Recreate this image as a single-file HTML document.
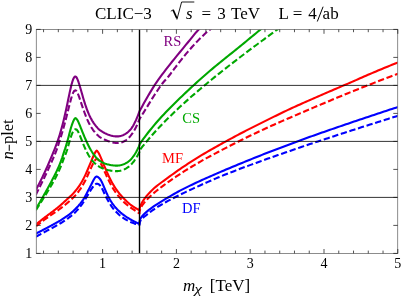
<!DOCTYPE html>
<html><head><meta charset="utf-8"><style>
html,body{margin:0;padding:0;background:#fff}
svg{display:block;will-change:transform;opacity:0.999}
text{font-family:"Liberation Serif",serif;}
</style></head><body>
<svg width="407" height="299" viewBox="0 0 407 299">
<rect width="407" height="299" fill="#fff"/>
<defs><clipPath id="c"><rect x="36.3" y="29.4" width="361.4" height="224.0"/></clipPath></defs>
<g clip-path="url(#c)" stroke-linecap="butt" stroke-linejoin="round">
<path d="M35.80 233.73 L36.55 233.34 L37.30 232.94 L38.05 232.55 L38.80 232.16 L39.55 231.77 L40.30 231.37 L41.05 230.98 L41.80 230.59 L42.55 230.19 L43.30 229.80 L44.05 229.40 L44.80 229.01 L45.55 228.61 L46.30 228.22 L47.05 227.82 L47.80 227.42 L48.55 227.03 L49.30 226.63 L50.05 226.23 L50.80 225.82 L51.55 225.42 L52.30 225.01 L53.05 224.61 L53.80 224.20 L54.55 223.78 L55.30 223.37 L56.05 222.95 L56.80 222.53 L57.55 222.10 L58.30 221.67 L59.05 221.23 L59.80 220.79 L60.55 220.34 L61.30 219.89 L62.05 219.42 L62.80 218.96 L63.55 218.48 L64.30 217.99 L65.05 217.49 L65.80 216.98 L66.55 216.46 L67.30 215.93 L68.05 215.38 L68.80 214.82 L69.55 214.24 L70.30 213.65 L71.05 213.03 L71.80 212.39 L72.55 211.73 L73.30 211.05 L74.05 210.34 L74.80 209.61 L75.55 208.84 L76.30 208.05 L77.05 207.24 L77.80 206.43 L78.55 205.61 L79.30 204.75 L80.05 203.87 L80.80 202.94 L81.55 201.96 L82.30 200.93 L83.05 199.83 L83.80 198.66 L84.55 197.42 L85.30 196.10 L86.05 194.73 L86.80 193.31 L87.55 191.84 L88.30 190.34 L89.05 188.85 L89.80 187.39 L90.55 185.95 L91.30 184.55 L92.05 183.07 L92.80 181.55 L93.55 180.08 L94.30 178.74 L95.05 177.63 L95.80 176.83 L96.55 176.48 L97.30 176.69 L98.05 177.13 L98.80 177.73 L99.55 178.48 L100.30 179.43 L101.05 180.62 L101.80 182.05 L102.55 183.65 L103.30 185.36 L104.05 187.15 L104.80 188.95 L105.55 190.72 L106.30 192.44 L107.05 194.08 L107.80 195.62 L108.55 197.06 L109.30 198.44 L110.05 199.77 L110.80 201.03 L111.55 202.22 L112.30 203.36 L113.05 204.42 L113.80 205.42 L114.55 206.36 L115.30 207.25 L116.05 208.09 L116.80 208.89 L117.55 209.67 L118.30 210.41 L119.05 211.13 L119.80 211.81 L120.55 212.48 L121.30 213.11 L122.05 213.73 L122.80 214.32 L123.55 214.90 L124.30 215.45 L125.05 215.99 L125.80 216.51 L126.55 217.02 L127.30 217.51 L128.05 217.99 L128.80 218.45 L129.55 218.90 L130.30 219.34 L131.05 219.77 L131.80 220.18 L132.55 220.59 L133.30 220.99 L134.05 221.37 L134.80 221.75 L135.55 222.12 L136.30 222.48 L137.05 222.83 L137.80 223.18 L138.55 223.52 L139.30 223.85 L139.50 223.93 L139.50 222.62 L139.60 221.34 L139.75 220.61 L140.00 219.81 L140.30 219.09 L140.70 218.32 L141.30 217.34 L142.00 216.39 L142.80 215.44 L143.70 214.49 L144.70 213.52 L146.00 212.34 L148.00 210.63 L150.00 209.05 L152.00 207.58 L154.00 206.19 L156.00 204.86 L158.00 203.57 L160.00 202.32 L162.00 201.10 L164.00 199.89 L166.00 198.70 L168.00 197.51 L170.00 196.32 L172.00 195.14 L174.00 193.97 L176.00 192.84 L178.00 191.73 L180.00 190.67 L182.00 189.63 L184.00 188.62 L186.00 187.62 L188.00 186.64 L190.00 185.66 L192.00 184.70 L194.00 183.76 L196.00 182.82 L198.00 181.89 L200.00 180.96 L202.00 180.05 L204.00 179.14 L206.00 178.24 L208.00 177.35 L210.00 176.47 L212.00 175.59 L214.00 174.71 L216.00 173.85 L218.00 172.99 L220.00 172.13 L222.00 171.28 L224.00 170.43 L226.00 169.59 L228.00 168.75 L230.00 167.92 L232.00 167.08 L234.00 166.25 L236.00 165.42 L238.00 164.59 L240.00 163.76 L242.00 162.94 L244.00 162.11 L246.00 161.29 L248.00 160.47 L250.00 159.66 L252.00 158.85 L254.00 158.04 L256.00 157.24 L258.00 156.45 L260.00 155.66 L262.00 154.87 L264.00 154.09 L266.00 153.31 L268.00 152.53 L270.00 151.76 L272.00 150.99 L274.00 150.22 L276.00 149.45 L278.00 148.69 L280.00 147.93 L282.00 147.18 L284.00 146.42 L286.00 145.67 L288.00 144.93 L290.00 144.18 L292.00 143.44 L294.00 142.70 L296.00 141.96 L298.00 141.22 L300.00 140.49 L302.00 139.75 L304.00 139.02 L306.00 138.30 L308.00 137.57 L310.00 136.85 L312.00 136.13 L314.00 135.42 L316.00 134.70 L318.00 134.00 L320.00 133.29 L322.00 132.59 L324.00 131.89 L326.00 131.19 L328.00 130.50 L330.00 129.81 L332.00 129.12 L334.00 128.43 L336.00 127.74 L338.00 127.05 L340.00 126.37 L342.00 125.69 L344.00 125.00 L346.00 124.32 L348.00 123.64 L350.00 122.96 L352.00 122.29 L354.00 121.61 L356.00 120.93 L358.00 120.26 L360.00 119.58 L362.00 118.91 L364.00 118.24 L366.00 117.57 L368.00 116.90 L370.00 116.23 L372.00 115.56 L374.00 114.90 L376.00 114.23 L378.00 113.57 L380.00 112.90 L382.00 112.24 L384.00 111.58 L386.00 110.92 L388.00 110.26 L390.00 109.60 L392.00 108.94 L394.00 108.28 L396.00 107.63 L398.00 106.97" fill="none" stroke="#0000ff" stroke-width="2.1"/>
<path d="M35.80 236.78 L36.55 236.38 L37.30 235.96 L38.05 235.54 L38.80 235.13 L39.55 234.72 L40.30 234.31 L41.05 233.90 L41.80 233.49 L42.55 233.09 L43.30 232.68 L44.05 232.28 L44.80 231.88 L45.55 231.48 L46.30 231.07 L47.05 230.67 L47.80 230.27 L48.55 229.87 L49.30 229.47 L50.05 229.07 L50.80 228.67 L51.55 228.27 L52.30 227.87 L53.05 227.46 L53.80 227.06 L54.55 226.65 L55.30 226.24 L56.05 225.82 L56.80 225.40 L57.55 224.98 L58.30 224.56 L59.05 224.12 L59.80 223.68 L60.55 223.24 L61.30 222.79 L62.05 222.33 L62.80 221.86 L63.55 221.39 L64.30 220.90 L65.05 220.41 L65.80 219.91 L66.55 219.39 L67.30 218.86 L68.05 218.32 L68.80 217.76 L69.55 217.19 L70.30 216.60 L71.05 216.00 L71.80 215.37 L72.55 214.73 L73.30 214.06 L74.05 213.37 L74.80 212.65 L75.55 211.91 L76.30 211.14 L77.05 210.34 L77.80 209.52 L78.55 208.66 L79.30 207.77 L80.05 206.84 L80.80 205.87 L81.55 204.86 L82.30 203.82 L83.05 202.73 L83.80 201.61 L84.55 200.44 L85.30 199.24 L86.05 198.00 L86.80 196.73 L87.55 195.42 L88.30 194.11 L89.05 192.86 L89.80 191.62 L90.55 190.39 L91.30 189.20 L92.05 188.07 L92.80 187.02 L93.55 186.07 L94.30 185.24 L95.05 184.56 L95.80 184.05 L96.55 183.76 L97.30 183.73 L98.05 183.95 L98.80 184.34 L99.55 184.92 L100.30 185.74 L101.05 186.81 L101.80 188.10 L102.55 189.56 L103.30 191.14 L104.05 192.77 L104.80 194.40 L105.55 195.96 L106.30 197.42 L107.05 198.83 L107.80 200.20 L108.55 201.52 L109.30 202.80 L110.05 204.02 L110.80 205.18 L111.55 206.29 L112.30 207.34 L113.05 208.33 L113.80 209.28 L114.55 210.17 L115.30 211.01 L116.05 211.81 L116.80 212.58 L117.55 213.31 L118.30 214.01 L119.05 214.68 L119.80 215.32 L120.55 215.93 L121.30 216.52 L122.05 217.08 L122.80 217.61 L123.55 218.12 L124.30 218.61 L125.05 219.08 L125.80 219.53 L126.55 219.96 L127.30 220.38 L128.05 220.77 L128.80 221.15 L129.55 221.51 L130.30 221.86 L131.05 222.19 L131.80 222.51 L132.55 222.81 L133.30 223.10 L134.05 223.38 L134.80 223.64 L135.55 223.89 L136.30 224.13 L137.05 224.36 L137.80 224.58 L138.55 224.78 L139.30 224.98 L139.50 225.03 L139.50 224.31 L139.60 223.13 L139.75 222.47 L140.00 221.73 L140.30 221.07 L140.70 220.37 L141.30 219.51 L142.00 218.68 L142.80 217.88 L143.70 217.09 L144.70 216.30 L146.00 215.33 L148.00 213.76 L150.00 212.17 L152.00 210.69 L154.00 209.30 L156.00 207.97 L158.00 206.70 L160.00 205.48 L162.00 204.29 L164.00 203.15 L166.00 202.03 L168.00 200.94 L170.00 199.88 L172.00 198.83 L174.00 197.80 L176.00 196.79 L178.00 195.78 L180.00 194.79 L182.00 193.81 L184.00 192.84 L186.00 191.88 L188.00 190.94 L190.00 190.01 L192.00 189.08 L194.00 188.16 L196.00 187.25 L198.00 186.34 L200.00 185.43 L202.00 184.53 L204.00 183.64 L206.00 182.75 L208.00 181.87 L210.00 181.00 L212.00 180.13 L214.00 179.27 L216.00 178.41 L218.00 177.57 L220.00 176.73 L222.00 175.91 L224.00 175.09 L226.00 174.28 L228.00 173.48 L230.00 172.70 L232.00 171.92 L234.00 171.15 L236.00 170.38 L238.00 169.61 L240.00 168.85 L242.00 168.10 L244.00 167.35 L246.00 166.60 L248.00 165.86 L250.00 165.12 L252.00 164.38 L254.00 163.65 L256.00 162.92 L258.00 162.19 L260.00 161.47 L262.00 160.74 L264.00 160.03 L266.00 159.31 L268.00 158.60 L270.00 157.89 L272.00 157.18 L274.00 156.48 L276.00 155.77 L278.00 155.07 L280.00 154.37 L282.00 153.68 L284.00 152.98 L286.00 152.29 L288.00 151.60 L290.00 150.91 L292.00 150.22 L294.00 149.53 L296.00 148.85 L298.00 148.17 L300.00 147.49 L302.00 146.81 L304.00 146.13 L306.00 145.46 L308.00 144.78 L310.00 144.11 L312.00 143.44 L314.00 142.77 L316.00 142.10 L318.00 141.44 L320.00 140.77 L322.00 140.11 L324.00 139.45 L326.00 138.79 L328.00 138.13 L330.00 137.47 L332.00 136.81 L334.00 136.16 L336.00 135.50 L338.00 134.85 L340.00 134.20 L342.00 133.55 L344.00 132.90 L346.00 132.25 L348.00 131.61 L350.00 130.96 L352.00 130.32 L354.00 129.67 L356.00 129.03 L358.00 128.39 L360.00 127.75 L362.00 127.11 L364.00 126.47 L366.00 125.83 L368.00 125.20 L370.00 124.56 L372.00 123.93 L374.00 123.29 L376.00 122.66 L378.00 122.03 L380.00 121.40 L382.00 120.77 L384.00 120.14 L386.00 119.51 L388.00 118.88 L390.00 118.25 L392.00 117.63 L394.00 117.00 L396.00 116.38 L398.00 115.76" fill="none" stroke="#0000ff" stroke-width="2.1" stroke-dasharray="6.3 2.7"/>
<path d="M35.80 224.64 L36.55 224.05 L37.30 223.42 L38.05 222.80 L38.80 222.18 L39.55 221.57 L40.30 220.97 L41.05 220.37 L41.80 219.78 L42.55 219.19 L43.30 218.60 L44.05 218.02 L44.80 217.44 L45.55 216.87 L46.30 216.30 L47.05 215.73 L47.80 215.16 L48.55 214.60 L49.30 214.03 L50.05 213.47 L50.80 212.91 L51.55 212.35 L52.30 211.78 L53.05 211.22 L53.80 210.66 L54.55 210.09 L55.30 209.52 L56.05 208.95 L56.80 208.36 L57.55 207.76 L58.30 207.14 L59.05 206.51 L59.80 205.87 L60.55 205.21 L61.30 204.55 L62.05 203.87 L62.80 203.20 L63.55 202.51 L64.30 201.83 L65.05 201.14 L65.80 200.45 L66.55 199.77 L67.30 199.08 L68.05 198.40 L68.80 197.73 L69.55 197.05 L70.30 196.36 L71.05 195.65 L71.80 194.91 L72.55 194.15 L73.30 193.36 L74.05 192.54 L74.80 191.69 L75.55 190.80 L76.30 189.88 L77.05 188.92 L77.80 187.93 L78.55 186.88 L79.30 185.79 L80.05 184.66 L80.80 183.47 L81.55 182.22 L82.30 180.92 L83.05 179.56 L83.80 178.13 L84.55 176.65 L85.30 175.09 L86.05 173.47 L86.80 171.78 L87.55 170.03 L88.30 168.24 L89.05 166.46 L89.80 164.66 L90.55 162.86 L91.30 161.06 L92.05 159.26 L92.80 157.49 L93.55 155.77 L94.30 154.14 L95.05 152.66 L95.80 151.42 L96.55 150.60 L97.30 151.02 L98.05 152.03 L98.80 153.32 L99.55 154.81 L100.30 156.43 L101.05 158.14 L101.80 159.91 L102.55 161.72 L103.30 163.54 L104.05 165.36 L104.80 167.16 L105.55 168.92 L106.30 170.65 L107.05 172.35 L107.80 174.01 L108.55 175.63 L109.30 177.23 L110.05 178.77 L110.80 180.24 L111.55 181.66 L112.30 183.03 L113.05 184.33 L113.80 185.59 L114.55 186.80 L115.30 187.96 L116.05 189.07 L116.80 190.14 L117.55 191.17 L118.30 192.16 L119.05 193.12 L119.80 194.04 L120.55 194.93 L121.30 195.79 L122.05 196.63 L122.80 197.46 L123.55 198.27 L124.30 199.06 L125.05 199.82 L125.80 200.57 L126.55 201.29 L127.30 201.98 L128.05 202.65 L128.80 203.29 L129.55 203.91 L130.30 204.50 L131.05 205.06 L131.80 205.60 L132.55 206.12 L133.30 206.63 L134.05 207.11 L134.80 207.58 L135.55 208.04 L136.30 208.49 L137.05 208.92 L137.80 209.34 L138.55 209.76 L139.30 210.16 L139.50 210.26 L139.50 210.36 L139.60 208.97 L139.75 208.13 L140.00 207.14 L140.30 206.22 L140.70 205.19 L141.30 203.89 L142.00 202.57 L142.80 201.23 L143.70 199.86 L144.70 198.46 L146.00 196.77 L148.00 194.39 L150.00 192.20 L152.00 190.17 L154.00 188.32 L156.00 186.61 L158.00 184.99 L160.00 183.46 L162.00 181.99 L164.00 180.54 L166.00 179.11 L168.00 177.68 L170.00 176.21 L172.00 174.74 L174.00 173.30 L176.00 171.87 L178.00 170.47 L180.00 169.09 L182.00 167.72 L184.00 166.37 L186.00 165.04 L188.00 163.73 L190.00 162.43 L192.00 161.14 L194.00 159.88 L196.00 158.62 L198.00 157.39 L200.00 156.16 L202.00 154.96 L204.00 153.76 L206.00 152.58 L208.00 151.42 L210.00 150.26 L212.00 149.11 L214.00 147.98 L216.00 146.85 L218.00 145.73 L220.00 144.62 L222.00 143.51 L224.00 142.41 L226.00 141.31 L228.00 140.22 L230.00 139.13 L232.00 138.05 L234.00 136.97 L236.00 135.90 L238.00 134.84 L240.00 133.79 L242.00 132.74 L244.00 131.70 L246.00 130.67 L248.00 129.64 L250.00 128.62 L252.00 127.61 L254.00 126.60 L256.00 125.59 L258.00 124.60 L260.00 123.61 L262.00 122.62 L264.00 121.63 L266.00 120.64 L268.00 119.65 L270.00 118.66 L272.00 117.67 L274.00 116.68 L276.00 115.70 L278.00 114.72 L280.00 113.75 L282.00 112.78 L284.00 111.82 L286.00 110.87 L288.00 109.92 L290.00 108.99 L292.00 108.06 L294.00 107.14 L296.00 106.23 L298.00 105.32 L300.00 104.42 L302.00 103.52 L304.00 102.62 L306.00 101.74 L308.00 100.85 L310.00 99.97 L312.00 99.09 L314.00 98.21 L316.00 97.34 L318.00 96.47 L320.00 95.60 L322.00 94.73 L324.00 93.87 L326.00 93.00 L328.00 92.14 L330.00 91.28 L332.00 90.42 L334.00 89.57 L336.00 88.71 L338.00 87.86 L340.00 87.00 L342.00 86.15 L344.00 85.30 L346.00 84.45 L348.00 83.59 L350.00 82.72 L352.00 81.84 L354.00 80.97 L356.00 80.09 L358.00 79.20 L360.00 78.32 L362.00 77.44 L364.00 76.57 L366.00 75.69 L368.00 74.83 L370.00 73.97 L372.00 73.12 L374.00 72.28 L376.00 71.43 L378.00 70.59 L380.00 69.75 L382.00 68.92 L384.00 68.09 L386.00 67.26 L388.00 66.43 L390.00 65.61 L392.00 64.79 L394.00 63.97 L396.00 63.16 L398.00 62.36" fill="none" stroke="#ff0000" stroke-width="2.1"/>
<path d="M35.80 226.47 L36.55 225.89 L37.30 225.27 L38.05 224.66 L38.80 224.06 L39.55 223.46 L40.30 222.87 L41.05 222.29 L41.80 221.72 L42.55 221.15 L43.30 220.59 L44.05 220.03 L44.80 219.48 L45.55 218.94 L46.30 218.40 L47.05 217.86 L47.80 217.33 L48.55 216.80 L49.30 216.28 L50.05 215.75 L50.80 215.24 L51.55 214.72 L52.30 214.20 L53.05 213.69 L53.80 213.17 L54.55 212.66 L55.30 212.14 L56.05 211.62 L56.80 211.10 L57.55 210.57 L58.30 210.04 L59.05 209.49 L59.80 208.94 L60.55 208.39 L61.30 207.82 L62.05 207.25 L62.80 206.67 L63.55 206.08 L64.30 205.49 L65.05 204.88 L65.80 204.27 L66.55 203.65 L67.30 203.02 L68.05 202.37 L68.80 201.72 L69.55 201.06 L70.30 200.38 L71.05 199.69 L71.80 198.98 L72.55 198.26 L73.30 197.52 L74.05 196.76 L74.80 195.97 L75.55 195.15 L76.30 194.29 L77.05 193.40 L77.80 192.47 L78.55 191.50 L79.30 190.48 L80.05 189.42 L80.80 188.30 L81.55 187.14 L82.30 185.91 L83.05 184.63 L83.80 183.29 L84.55 181.89 L85.30 180.43 L86.05 178.91 L86.80 177.33 L87.55 175.70 L88.30 174.03 L89.05 172.34 L89.80 170.66 L90.55 168.98 L91.30 167.32 L92.05 165.71 L92.80 164.16 L93.55 162.71 L94.30 161.39 L95.05 160.26 L95.80 159.39 L96.55 158.87 L97.30 159.00 L98.05 159.57 L98.80 160.43 L99.55 161.49 L100.30 162.72 L101.05 164.09 L101.80 165.56 L102.55 167.11 L103.30 168.72 L104.05 170.35 L104.80 172.01 L105.55 173.67 L106.30 175.32 L107.05 176.95 L107.80 178.56 L108.55 180.13 L109.30 181.64 L110.05 183.11 L110.80 184.52 L111.55 185.87 L112.30 187.17 L113.05 188.42 L113.80 189.62 L114.55 190.77 L115.30 191.88 L116.05 192.94 L116.80 193.96 L117.55 194.94 L118.30 195.88 L119.05 196.79 L119.80 197.68 L120.55 198.53 L121.30 199.36 L122.05 200.17 L122.80 200.94 L123.55 201.69 L124.30 202.41 L125.05 203.11 L125.80 203.78 L126.55 204.43 L127.30 205.06 L128.05 205.67 L128.80 206.26 L129.55 206.83 L130.30 207.38 L131.05 207.92 L131.80 208.44 L132.55 208.96 L133.30 209.46 L134.05 209.96 L134.80 210.45 L135.55 210.93 L136.30 211.41 L137.05 211.88 L137.80 212.34 L138.55 212.81 L139.30 213.27 L139.50 213.39 L139.50 212.89 L139.60 211.59 L139.75 210.80 L140.00 209.89 L140.30 209.04 L140.70 208.11 L141.30 206.93 L142.00 205.74 L142.80 204.54 L143.70 203.32 L144.70 202.07 L146.00 200.55 L148.00 198.43 L150.00 196.47 L152.00 194.63 L154.00 192.89 L156.00 191.23 L158.00 189.62 L160.00 188.06 L162.00 186.55 L164.00 185.07 L166.00 183.61 L168.00 182.18 L170.00 180.77 L172.00 179.38 L174.00 178.01 L176.00 176.66 L178.00 175.33 L180.00 174.02 L182.00 172.73 L184.00 171.45 L186.00 170.20 L188.00 168.95 L190.00 167.73 L192.00 166.52 L194.00 165.32 L196.00 164.14 L198.00 162.97 L200.00 161.82 L202.00 160.68 L204.00 159.56 L206.00 158.45 L208.00 157.35 L210.00 156.26 L212.00 155.19 L214.00 154.12 L216.00 153.06 L218.00 152.01 L220.00 150.97 L222.00 149.93 L224.00 148.89 L226.00 147.86 L228.00 146.83 L230.00 145.80 L232.00 144.77 L234.00 143.75 L236.00 142.74 L238.00 141.73 L240.00 140.72 L242.00 139.73 L244.00 138.74 L246.00 137.75 L248.00 136.77 L250.00 135.80 L252.00 134.83 L254.00 133.88 L256.00 132.93 L258.00 131.98 L260.00 131.05 L262.00 130.12 L264.00 129.20 L266.00 128.29 L268.00 127.38 L270.00 126.47 L272.00 125.57 L274.00 124.67 L276.00 123.78 L278.00 122.90 L280.00 122.02 L282.00 121.14 L284.00 120.27 L286.00 119.41 L288.00 118.55 L290.00 117.69 L292.00 116.83 L294.00 115.98 L296.00 115.12 L298.00 114.25 L300.00 113.39 L302.00 112.53 L304.00 111.67 L306.00 110.81 L308.00 109.95 L310.00 109.09 L312.00 108.24 L314.00 107.38 L316.00 106.54 L318.00 105.69 L320.00 104.85 L322.00 104.02 L324.00 103.18 L326.00 102.34 L328.00 101.50 L330.00 100.66 L332.00 99.82 L334.00 98.98 L336.00 98.15 L338.00 97.32 L340.00 96.49 L342.00 95.66 L344.00 94.84 L346.00 94.03 L348.00 93.21 L350.00 92.40 L352.00 91.59 L354.00 90.79 L356.00 89.99 L358.00 89.19 L360.00 88.39 L362.00 87.59 L364.00 86.80 L366.00 86.01 L368.00 85.22 L370.00 84.44 L372.00 83.66 L374.00 82.88 L376.00 82.10 L378.00 81.33 L380.00 80.55 L382.00 79.78 L384.00 79.02 L386.00 78.25 L388.00 77.49 L390.00 76.73 L392.00 75.97 L394.00 75.21 L396.00 74.46 L398.00 73.72" fill="none" stroke="#ff0000" stroke-width="2.1" stroke-dasharray="6.3 2.7"/>
<path d="M35.80 209.29 L36.55 207.98 L37.30 206.67 L38.05 205.36 L38.80 204.06 L39.55 202.75 L40.30 201.44 L41.05 200.12 L41.80 198.81 L42.55 197.49 L43.30 196.16 L44.05 194.84 L44.80 193.52 L45.55 192.19 L46.30 190.86 L47.05 189.52 L47.80 188.17 L48.55 186.82 L49.30 185.44 L50.05 184.06 L50.80 182.65 L51.55 181.23 L52.30 179.78 L53.05 178.33 L53.80 176.87 L54.55 175.41 L55.30 173.92 L56.05 172.41 L56.80 170.86 L57.55 169.26 L58.30 167.60 L59.05 165.88 L59.80 164.08 L60.55 162.19 L61.30 160.21 L62.05 158.10 L62.80 155.82 L63.55 153.42 L64.30 151.09 L65.05 148.92 L65.80 146.58 L66.55 144.12 L67.30 141.56 L68.05 138.82 L68.80 135.95 L69.55 133.03 L70.30 130.17 L71.05 127.54 L71.80 125.20 L72.55 123.06 L73.30 121.17 L74.05 119.62 L74.80 118.52 L75.55 118.16 L76.30 118.62 L77.05 119.55 L77.80 120.83 L78.55 122.36 L79.30 124.08 L80.05 125.91 L80.80 127.80 L81.55 129.70 L82.30 131.57 L83.05 133.42 L83.80 135.25 L84.55 137.04 L85.30 138.78 L86.05 140.46 L86.80 142.10 L87.55 143.69 L88.30 145.24 L89.05 146.73 L89.80 148.16 L90.55 149.52 L91.30 150.81 L92.05 152.03 L92.80 153.18 L93.55 154.26 L94.30 155.27 L95.05 156.21 L95.80 157.09 L96.55 157.90 L97.30 158.65 L98.05 159.34 L98.80 159.98 L99.55 160.58 L100.30 161.14 L101.05 161.65 L101.80 162.09 L102.55 162.49 L103.30 162.84 L104.05 163.16 L104.80 163.45 L105.55 163.72 L106.30 163.96 L107.05 164.19 L107.80 164.40 L108.55 164.59 L109.30 164.77 L110.05 164.94 L110.80 165.09 L111.55 165.21 L112.30 165.32 L113.05 165.41 L113.80 165.48 L114.55 165.55 L115.30 165.59 L116.05 165.62 L116.80 165.62 L117.55 165.60 L118.30 165.54 L119.05 165.46 L119.80 165.34 L120.55 165.19 L121.30 165.01 L122.05 164.79 L122.80 164.54 L123.55 164.26 L124.30 163.94 L125.05 163.59 L125.80 163.20 L126.55 162.77 L127.30 162.31 L128.05 161.81 L128.80 161.26 L129.55 160.63 L130.30 159.94 L131.05 159.18 L131.80 158.34 L132.55 157.42 L133.30 156.44 L134.05 155.38 L134.80 154.26 L135.55 153.06 L136.30 151.75 L137.05 150.32 L137.80 148.77 L138.55 147.11 L139.30 145.33 L139.50 144.84 L139.50 144.35 L139.60 144.20 L139.75 143.98 L140.00 143.62 L140.30 143.19 L140.70 142.61 L141.30 141.76 L142.00 140.77 L142.80 139.66 L143.70 138.43 L144.70 137.08 L146.00 135.35 L148.00 132.76 L150.00 130.24 L152.00 127.79 L154.00 125.39 L156.00 123.05 L158.00 120.77 L160.00 118.53 L162.00 116.33 L164.00 114.18 L166.00 112.06 L168.00 109.98 L170.00 107.93 L172.00 105.92 L174.00 103.93 L176.00 101.97 L178.00 100.02 L180.00 98.09 L182.00 96.17 L184.00 94.26 L186.00 92.37 L188.00 90.49 L190.00 88.63 L192.00 86.77 L194.00 84.94 L196.00 83.11 L198.00 81.30 L200.00 79.51 L202.00 77.73 L204.00 75.97 L206.00 74.23 L208.00 72.50 L210.00 70.79 L212.00 69.10 L214.00 67.43 L216.00 65.77 L218.00 64.12 L220.00 62.49 L222.00 60.86 L224.00 59.25 L226.00 57.63 L228.00 56.03 L230.00 54.42 L232.00 52.82 L234.00 51.21 L236.00 49.60 L238.00 47.99 L240.00 46.37 L242.00 44.74 L244.00 43.10 L246.00 41.46 L248.00 39.81 L250.00 38.16 L252.00 36.51 L254.00 34.86 L256.00 33.20 L258.00 31.55 L260.00 29.89 L262.00 28.24 L264.00 26.58 L266.00 24.91" fill="none" stroke="#00a800" stroke-width="2.1"/>
<path d="M35.80 210.30 L36.55 209.13 L37.30 207.96 L38.05 206.78 L38.80 205.60 L39.55 204.41 L40.30 203.23 L41.05 202.04 L41.80 200.85 L42.55 199.66 L43.30 198.46 L44.05 197.26 L44.80 196.05 L45.55 194.85 L46.30 193.64 L47.05 192.42 L47.80 191.20 L48.55 189.97 L49.30 188.73 L50.05 187.48 L50.80 186.22 L51.55 184.94 L52.30 183.64 L53.05 182.32 L53.80 180.97 L54.55 179.59 L55.30 178.18 L56.05 176.73 L56.80 175.24 L57.55 173.70 L58.30 172.11 L59.05 170.46 L59.80 168.75 L60.55 166.98 L61.30 165.16 L62.05 163.26 L62.80 161.29 L63.55 159.23 L64.30 157.24 L65.05 155.43 L65.80 153.52 L66.55 151.53 L67.30 149.30 L68.05 146.75 L68.80 144.03 L69.55 141.30 L70.30 138.75 L71.05 136.44 L71.80 134.36 L72.55 132.57 L73.30 131.12 L74.05 130.07 L74.80 129.43 L75.55 129.20 L76.30 129.40 L77.05 130.04 L77.80 131.07 L78.55 132.45 L79.30 134.08 L80.05 135.89 L80.80 137.80 L81.55 139.74 L82.30 141.63 L83.05 143.50 L83.80 145.33 L84.55 147.10 L85.30 148.79 L86.05 150.40 L86.80 151.92 L87.55 153.36 L88.30 154.71 L89.05 155.98 L89.80 157.16 L90.55 158.26 L91.30 159.29 L92.05 160.24 L92.80 161.13 L93.55 161.96 L94.30 162.72 L95.05 163.44 L95.80 164.10 L96.55 164.72 L97.30 165.29 L98.05 165.82 L98.80 166.32 L99.55 166.79 L100.30 167.23 L101.05 167.63 L101.80 167.99 L102.55 168.32 L103.30 168.62 L104.05 168.89 L104.80 169.15 L105.55 169.38 L106.30 169.60 L107.05 169.81 L107.80 170.00 L108.55 170.17 L109.30 170.34 L110.05 170.49 L110.80 170.63 L111.55 170.75 L112.30 170.85 L113.05 170.93 L113.80 171.00 L114.55 171.06 L115.30 171.10 L116.05 171.11 L116.80 171.11 L117.55 171.08 L118.30 171.02 L119.05 170.93 L119.80 170.81 L120.55 170.66 L121.30 170.47 L122.05 170.26 L122.80 170.00 L123.55 169.72 L124.30 169.39 L125.05 169.03 L125.80 168.63 L126.55 168.19 L127.30 167.70 L128.05 167.18 L128.80 166.60 L129.55 165.97 L130.30 165.29 L131.05 164.56 L131.80 163.76 L132.55 162.91 L133.30 161.99 L134.05 161.02 L134.80 159.98 L135.55 158.87 L136.30 157.69 L137.05 156.43 L137.80 155.08 L138.55 153.65 L139.30 152.14 L139.50 151.72 L139.50 150.43 L139.60 150.30 L139.75 150.10 L140.00 149.77 L140.30 149.39 L140.70 148.87 L141.30 148.10 L142.00 147.21 L142.80 146.20 L143.70 145.08 L144.70 143.85 L146.00 142.27 L148.00 139.88 L150.00 137.55 L152.00 135.26 L154.00 133.02 L156.00 130.81 L158.00 128.65 L160.00 126.52 L162.00 124.43 L164.00 122.37 L166.00 120.34 L168.00 118.34 L170.00 116.36 L172.00 114.42 L174.00 112.49 L176.00 110.59 L178.00 108.71 L180.00 106.85 L182.00 105.01 L184.00 103.19 L186.00 101.39 L188.00 99.60 L190.00 97.83 L192.00 96.08 L194.00 94.34 L196.00 92.62 L198.00 90.91 L200.00 89.21 L202.00 87.52 L204.00 85.85 L206.00 84.19 L208.00 82.53 L210.00 80.89 L212.00 79.26 L214.00 77.64 L216.00 76.03 L218.00 74.42 L220.00 72.83 L222.00 71.24 L224.00 69.66 L226.00 68.09 L228.00 66.52 L230.00 64.97 L232.00 63.41 L234.00 61.87 L236.00 60.33 L238.00 58.80 L240.00 57.27 L242.00 55.75 L244.00 54.23 L246.00 52.72 L248.00 51.21 L250.00 49.71 L252.00 48.21 L254.00 46.71 L256.00 45.22 L258.00 43.74 L260.00 42.26 L262.00 40.78 L264.00 39.30 L266.00 37.83 L268.00 36.36 L270.00 34.89 L272.00 33.43 L274.00 31.97 L276.00 30.51 L278.00 29.05 L280.00 27.60 L282.00 26.15" fill="none" stroke="#00a800" stroke-width="2.1" stroke-dasharray="6.3 2.7"/>
<path d="M35.80 190.40 L36.55 188.76 L37.30 187.30 L38.05 185.84 L38.80 184.37 L39.55 182.89 L40.30 181.40 L41.05 179.90 L41.80 178.38 L42.55 176.84 L43.30 175.28 L44.05 173.70 L44.80 172.08 L45.55 170.44 L46.30 168.76 L47.05 167.07 L47.80 165.37 L48.55 163.66 L49.30 161.93 L50.05 160.18 L50.80 158.42 L51.55 156.63 L52.30 154.83 L53.05 153.00 L53.80 151.15 L54.55 149.27 L55.30 147.38 L56.05 145.47 L56.80 143.48 L57.55 141.40 L58.30 139.20 L59.05 136.88 L59.80 134.46 L60.55 131.92 L61.30 129.27 L62.05 126.51 L62.80 123.65 L63.55 120.67 L64.30 117.58 L65.05 114.34 L65.80 110.97 L66.55 107.49 L67.30 103.93 L68.05 100.32 L68.80 96.71 L69.55 93.15 L70.30 89.73 L71.05 86.51 L71.80 83.59 L72.55 81.06 L73.30 78.98 L74.05 77.45 L74.80 76.58 L75.55 76.49 L76.30 77.15 L77.05 78.41 L77.80 80.15 L78.55 82.22 L79.30 84.49 L80.05 86.95 L80.80 89.54 L81.55 92.18 L82.30 94.83 L83.05 97.44 L83.80 99.97 L84.55 102.41 L85.30 104.74 L86.05 106.95 L86.80 109.04 L87.55 111.00 L88.30 112.84 L89.05 114.57 L89.80 116.19 L90.55 117.70 L91.30 119.12 L92.05 120.44 L92.80 121.68 L93.55 122.84 L94.30 123.93 L95.05 124.95 L95.80 125.90 L96.55 126.80 L97.30 127.64 L98.05 128.43 L98.80 129.18 L99.55 129.88 L100.30 130.48 L101.05 130.97 L101.80 131.44 L102.55 131.89 L103.30 132.32 L104.05 132.73 L104.80 133.12 L105.55 133.48 L106.30 133.83 L107.05 134.16 L107.80 134.47 L108.55 134.76 L109.30 135.02 L110.05 135.27 L110.80 135.50 L111.55 135.70 L112.30 135.88 L113.05 136.04 L113.80 136.17 L114.55 136.27 L115.30 136.35 L116.05 136.40 L116.80 136.41 L117.55 136.39 L118.30 136.34 L119.05 136.25 L119.80 136.12 L120.55 135.96 L121.30 135.76 L122.05 135.52 L122.80 135.24 L123.55 134.92 L124.30 134.55 L125.05 134.13 L125.80 133.67 L126.55 133.16 L127.30 132.60 L128.05 131.99 L128.80 131.32 L129.55 130.60 L130.30 129.81 L131.05 128.90 L131.80 127.86 L132.55 126.69 L133.30 125.41 L134.05 124.03 L134.80 122.57 L135.55 121.04 L136.30 119.41 L137.05 117.67 L137.80 115.82 L138.55 113.85 L139.30 111.76 L139.50 111.18 L139.50 111.36 L139.60 111.17 L139.75 110.88 L140.00 110.41 L140.30 109.84 L140.70 109.08 L141.30 107.96 L142.00 106.66 L142.80 105.20 L143.70 103.56 L144.70 101.77 L146.00 99.48 L148.00 96.02 L150.00 92.65 L152.00 89.36 L154.00 86.14 L156.00 83.05 L158.00 80.15 L160.00 77.39 L162.00 74.72 L164.00 72.09 L166.00 69.45 L168.00 66.84 L170.00 64.28 L172.00 61.77 L174.00 59.29 L176.00 56.85 L178.00 54.43 L180.00 52.01 L182.00 49.59 L184.00 47.16 L186.00 44.71 L188.00 42.25 L190.00 39.79 L192.00 37.33 L194.00 34.86 L196.00 32.41 L198.00 30.30 L200.00 28.29 L202.00 26.33" fill="none" stroke="#800080" stroke-width="2.1"/>
<path d="M35.80 195.03 L36.55 193.37 L37.30 191.86 L38.05 190.35 L38.80 188.84 L39.55 187.32 L40.30 185.81 L41.05 184.29 L41.80 182.77 L42.55 181.25 L43.30 179.71 L44.05 178.17 L44.80 176.62 L45.55 175.06 L46.30 173.48 L47.05 171.88 L47.80 170.27 L48.55 168.64 L49.30 167.01 L50.05 165.36 L50.80 163.70 L51.55 162.02 L52.30 160.33 L53.05 158.61 L53.80 156.86 L54.55 155.08 L55.30 153.27 L56.05 151.41 L56.80 149.49 L57.55 147.31 L58.30 144.91 L59.05 142.49 L59.80 140.16 L60.55 137.81 L61.30 135.41 L62.05 132.94 L62.80 130.40 L63.55 127.79 L64.30 125.09 L65.05 122.31 L65.80 119.45 L66.55 116.53 L67.30 113.55 L68.05 110.54 L68.80 107.54 L69.55 104.57 L70.30 101.66 L71.05 98.90 L71.80 96.37 L72.55 94.18 L73.30 92.41 L74.05 91.14 L74.80 90.44 L75.55 90.37 L76.30 90.92 L77.05 92.00 L77.80 93.52 L78.55 95.37 L79.30 97.46 L80.05 99.67 L80.80 101.90 L81.55 104.10 L82.30 106.31 L83.05 108.51 L83.80 110.66 L84.55 112.74 L85.30 114.73 L86.05 116.63 L86.80 118.43 L87.55 120.13 L88.30 121.73 L89.05 123.24 L89.80 124.66 L90.55 125.99 L91.30 127.24 L92.05 128.41 L92.80 129.51 L93.55 130.54 L94.30 131.52 L95.05 132.43 L95.80 133.29 L96.55 134.10 L97.30 134.87 L98.05 135.59 L98.80 136.27 L99.55 136.91 L100.30 137.44 L101.05 137.84 L101.80 138.23 L102.55 138.61 L103.30 138.98 L104.05 139.33 L104.80 139.67 L105.55 140.00 L106.30 140.31 L107.05 140.61 L107.80 140.90 L108.55 141.18 L109.30 141.44 L110.05 141.69 L110.80 141.92 L111.55 142.13 L112.30 142.33 L113.05 142.50 L113.80 142.65 L114.55 142.78 L115.30 142.88 L116.05 142.95 L116.80 142.99 L117.55 143.00 L118.30 142.97 L119.05 142.90 L119.80 142.79 L120.55 142.64 L121.30 142.44 L122.05 142.20 L122.80 141.92 L123.55 141.58 L124.30 141.20 L125.05 140.77 L125.80 140.28 L126.55 139.73 L127.30 139.13 L128.05 138.47 L128.80 137.75 L129.55 136.96 L130.30 136.11 L131.05 135.20 L131.80 134.21 L132.55 133.14 L133.30 131.99 L134.05 130.76 L134.80 129.45 L135.55 128.05 L136.30 126.56 L137.05 124.98 L137.80 123.31 L138.55 121.53 L139.30 119.66 L139.50 119.14 L139.50 119.03 L139.60 118.87 L139.75 118.63 L140.00 118.23 L140.30 117.75 L140.70 117.11 L141.30 116.15 L142.00 115.03 L142.80 113.75 L143.70 112.32 L144.70 110.72 L146.00 108.65 L148.00 105.40 L150.00 102.13 L152.00 98.89 L154.00 95.75 L156.00 92.71 L158.00 89.72 L160.00 86.78 L162.00 83.96 L164.00 81.53 L166.00 79.31 L168.00 77.05 L170.00 74.51 L172.00 71.84 L174.00 69.17 L176.00 66.53 L178.00 63.92 L180.00 61.35 L182.00 58.82 L184.00 56.34 L186.00 53.93 L188.00 51.58 L190.00 49.29 L192.00 47.05 L194.00 44.86 L196.00 42.72 L198.00 40.63 L200.00 38.60 L202.00 36.61 L204.00 34.69 L206.00 32.81 L208.00 31.11 L210.00 29.55 L212.00 28.05 L214.00 26.61 L216.00 25.24" fill="none" stroke="#800080" stroke-width="2.1" stroke-dasharray="6.3 2.7"/>
</g>
<g stroke="#000" stroke-width="0.8" fill="none"><path d="M36.30 197.40 H397.70"/><path d="M36.30 141.40 H397.70"/><path d="M36.30 85.40 H397.70"/></g>
<path d="M139.50 29.4 V253.4" stroke="#000" stroke-width="1.4" fill="none"/>
<rect x="36.3" y="29.4" width="361.4" height="224.0" fill="none" stroke="#707070" stroke-width="0.8"/>
<g stroke="#1a1a1a" stroke-width="0.75" fill="none"><path d="M43.56 253.40 v-2.80 M43.56 29.40 v2.80"/><path d="M58.32 253.40 v-2.80 M58.32 29.40 v2.80"/><path d="M73.08 253.40 v-2.80 M73.08 29.40 v2.80"/><path d="M87.84 253.40 v-2.80 M87.84 29.40 v2.80"/><path d="M102.60 253.40 v-4.40 M102.60 29.40 v4.40"/><path d="M117.36 253.40 v-2.80 M117.36 29.40 v2.80"/><path d="M132.12 253.40 v-2.80 M132.12 29.40 v2.80"/><path d="M146.88 253.40 v-2.80 M146.88 29.40 v2.80"/><path d="M161.64 253.40 v-2.80 M161.64 29.40 v2.80"/><path d="M176.40 253.40 v-4.40 M176.40 29.40 v4.40"/><path d="M191.16 253.40 v-2.80 M191.16 29.40 v2.80"/><path d="M205.92 253.40 v-2.80 M205.92 29.40 v2.80"/><path d="M220.68 253.40 v-2.80 M220.68 29.40 v2.80"/><path d="M235.44 253.40 v-2.80 M235.44 29.40 v2.80"/><path d="M250.20 253.40 v-4.40 M250.20 29.40 v4.40"/><path d="M264.96 253.40 v-2.80 M264.96 29.40 v2.80"/><path d="M279.72 253.40 v-2.80 M279.72 29.40 v2.80"/><path d="M294.48 253.40 v-2.80 M294.48 29.40 v2.80"/><path d="M309.24 253.40 v-2.80 M309.24 29.40 v2.80"/><path d="M324.00 253.40 v-4.40 M324.00 29.40 v4.40"/><path d="M338.76 253.40 v-2.80 M338.76 29.40 v2.80"/><path d="M353.52 253.40 v-2.80 M353.52 29.40 v2.80"/><path d="M368.28 253.40 v-2.80 M368.28 29.40 v2.80"/><path d="M383.04 253.40 v-2.80 M383.04 29.40 v2.80"/><path d="M397.80 253.40 v-4.40 M397.80 29.40 v4.40"/><path d="M36.30 253.40 h4.4 M397.70 253.40 h-4.4"/><path d="M36.30 225.40 h4.4 M397.70 225.40 h-4.4"/><path d="M36.30 197.40 h4.4 M397.70 197.40 h-4.4"/><path d="M36.30 169.40 h4.4 M397.70 169.40 h-4.4"/><path d="M36.30 141.40 h4.4 M397.70 141.40 h-4.4"/><path d="M36.30 113.40 h4.4 M397.70 113.40 h-4.4"/><path d="M36.30 85.40 h4.4 M397.70 85.40 h-4.4"/><path d="M36.30 57.40 h4.4 M397.70 57.40 h-4.4"/><path d="M36.30 29.40 h4.4 M397.70 29.40 h-4.4"/></g>
<g font-size="14px" fill="#000"><text x="102.60" y="267.5" text-anchor="middle">1</text><text x="176.40" y="267.5" text-anchor="middle">2</text><text x="250.20" y="267.5" text-anchor="middle">3</text><text x="324.00" y="267.5" text-anchor="middle">4</text><text x="397.80" y="267.5" text-anchor="middle">5</text><text x="32.3" y="258.10" text-anchor="end">1</text><text x="32.3" y="230.10" text-anchor="end">2</text><text x="32.3" y="202.10" text-anchor="end">3</text><text x="32.3" y="174.10" text-anchor="end">4</text><text x="32.3" y="146.10" text-anchor="end">5</text><text x="32.3" y="118.10" text-anchor="end">6</text><text x="32.3" y="90.10" text-anchor="end">7</text><text x="32.3" y="62.10" text-anchor="end">8</text><text x="32.3" y="34.10" text-anchor="end">9</text></g>
<g font-size="14.5px">
<text x="163.5" y="45.8" fill="#800080">RS</text>
<text x="182.3" y="123" fill="#00a800">CS</text>
<text x="162" y="162.5" fill="#ff0000">MF</text>
<text x="182" y="212.5" fill="#0000ff">DF</text>
</g>
<g font-size="17px" fill="#000">
<text x="95" y="19.3">CLIC−3</text>
<text x="186" y="19.3" font-style="italic">s</text>
<text x="201.5" y="19.3">=</text>
<text x="217.3" y="19.3">3</text>
<text x="231" y="19.3">TeV</text>
<text x="278.6" y="19.3">L</text>
<text x="292.8" y="19.3">=</text>
<text x="308.2" y="19.3">4</text>
<text x="322.6" y="19.3">ab</text>
</g>
<path d="M317.3 21.5 L323.1 6.7" fill="none" stroke="#000" stroke-width="1"/>
<path d="M170.8 11.2 L173.3 9.7" fill="none" stroke="#000" stroke-width="0.8"/>
<path d="M173.1 9.9 L176.9 18.4" fill="none" stroke="#000" stroke-width="1.7"/>
<path d="M176.9 19.6 L181.6 2 H194.3" fill="none" stroke="#000" stroke-width="0.9"/>
<g font-size="17px" fill="#000">
<text x="183" y="290.8" font-style="italic">m</text>
<text transform="translate(194.4,293.3) scale(1.35,1.08)" font-style="italic" font-size="12.5px">χ</text>
<text x="209.8" y="290.8">[TeV]</text>
<g transform="translate(13.3,159.5) rotate(-90)" font-size="16.5px"><text x="0" y="0" font-style="italic">n</text><rect x="8.7" y="-4.55" width="6" height="1"/><text x="15.4" y="0">plet</text></g>
</g>
</svg>
</body></html>
